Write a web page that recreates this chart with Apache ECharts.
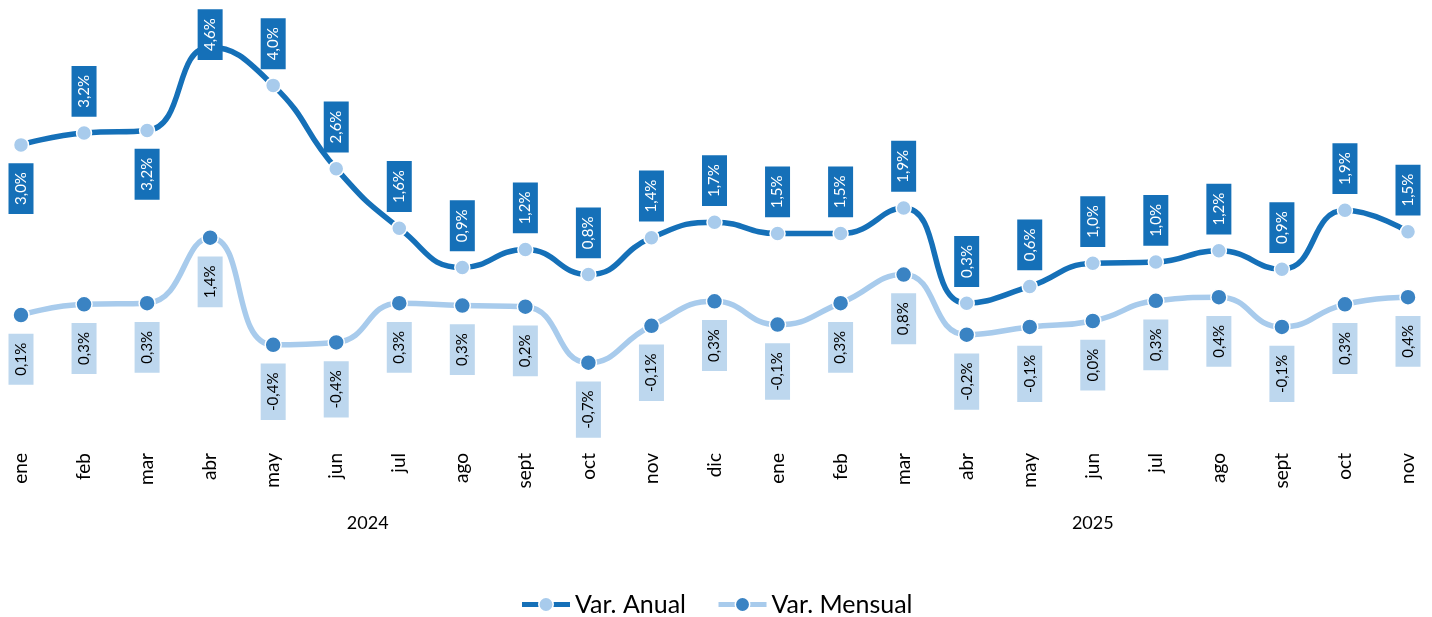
<!DOCTYPE html>
<html>
<head>
<meta charset="utf-8">
<script src="https://cdn.jsdelivr.net/npm/echarts@6/dist/echarts.min.js"></script>
<style>
html,body{margin:0;padding:0;background:#fff;}
#chart{width:1432px;height:617px;}
</style>
</head>
<body>
<div id="chart"></div>
<script>
const months = ['ene','feb','mar','abr','may','jun','jul','ago','sept','oct','nov','dic',
                'ene','feb','mar','abr','may','jun','jul','ago','sept','oct','nov'];
const years = ['2024','2025'];
const varAnual =   [2.96,3.16,3.2,4.6,3.96,2.56,1.56,0.9,1.2,0.78,1.4,1.66,1.47,1.47,1.9,0.3,0.58,0.97,0.99,1.18,0.87,1.86,1.5];
const varMensual = [0.1,0.28,0.3,1.4,-0.4,-0.36,0.3,0.26,0.24,-0.7,-0.08,0.33,-0.06,0.3,0.78,-0.23,-0.1,0.0,0.34,0.4,-0.1,0.28,0.4];
// label placement per point of Var. Anual
const anualLabelPlace = ['below','above','below','over','above','above','above','above','above','above','above','above',
                         'above','above','above','above','above','above','above','above','above','above','above'];

const FONT = 'Lato';
const DARK = '#1570B8';
const LIGHT = '#A8CBEC';
const LIGHTBOX = '#BDD7EE';
const MARKDARK = '#3A83C3';

const fmt = p => (Math.round(p.value * 10) / 10).toFixed(1).replace('.', ',') + '%';

function placeCfg(place) {
  if (place === 'above') return {position: 'top', distance: 8, align: 'left', verticalAlign: 'middle'};
  if (place === 'below') return {position: 'bottom', distance: 10, align: 'right', verticalAlign: 'middle'};
  return {position: 'top', distance: -21, align: 'left', verticalAlign: 'middle'};
}

const anualData = varAnual.map((v, i) => ({value: v, label: placeCfg(anualLabelPlace[i])}));
const mensualData = varMensual.map(v => ({value: v}));

const chart = echarts.init(document.getElementById('chart'));
chart.setOption({
  animation: false,
  backgroundColor: '#fff',
  grid: {left: 21, right: 24, top: 23.5, bottom: 177},
  legend: {
    top: 587, left: 'center',
    itemWidth: 48, itemHeight: 18, itemGap: 30,
    lineStyle: {width: 5},
    itemStyle: {borderWidth: 1.5, borderColor: '#fff'},
    textStyle: {fontFamily: FONT, fontSize: 25, color: '#000'},
    data: ['Var. Anual', 'Var. Mensual']
  },
  xAxis: [{
    type: 'category', data: months, boundaryGap: false,
    axisLine: {show: false}, axisTick: {show: false},
    axisLabel: {rotate: 90, fontFamily: FONT, fontSize: 19, color: '#000', margin: 13, interval: 0}
  }, {
    type: 'value', min: 0, max: 22, interval: 0.5, position: 'bottom', offset: 66,
    axisLine: {show: false}, axisTick: {show: false}, splitLine: {show: false},
    axisLabel: {
      fontFamily: FONT, fontSize: 18, color: '#000', margin: 8,
      showMinLabel: true, showMaxLabel: true,
      formatter: v => (v === 5.5 ? years[0] : (v === 17 ? years[1] : ''))
    }
  }],
  yAxis: {type: 'value', min: -2, max: 5, show: false},
  series: [{
    name: 'Var. Anual', type: 'line', data: anualData, smooth: 0.5,
    xAxisIndex: 0,
    lineStyle: {color: DARK, width: 5.5},
    itemStyle: {color: LIGHT, borderColor: '#fff', borderWidth: 1.5},
    symbol: 'circle', symbolSize: 15,
    z: 3,
    label: {
      show: true, rotate: 90, formatter: fmt,
      fontFamily: FONT, fontSize: 15, color: '#fff',
      backgroundColor: DARK, padding: [5, 9]
    }
  }, {
    name: 'Var. Mensual', type: 'line', data: mensualData, smooth: 0.5,
    xAxisIndex: 0,
    lineStyle: {color: LIGHT, width: 5.5},
    itemStyle: {color: MARKDARK, borderColor: '#fff', borderWidth: 1.5},
    symbol: 'circle', symbolSize: 16,
    z: 2,
    label: {
      show: true, rotate: 90, formatter: fmt,
      position: 'bottom', distance: 10, align: 'right', verticalAlign: 'middle',
      fontFamily: FONT, fontSize: 15, color: '#000',
      backgroundColor: LIGHTBOX, padding: [5, 9]
    }
  }]
});
</script>
</body>
</html>
